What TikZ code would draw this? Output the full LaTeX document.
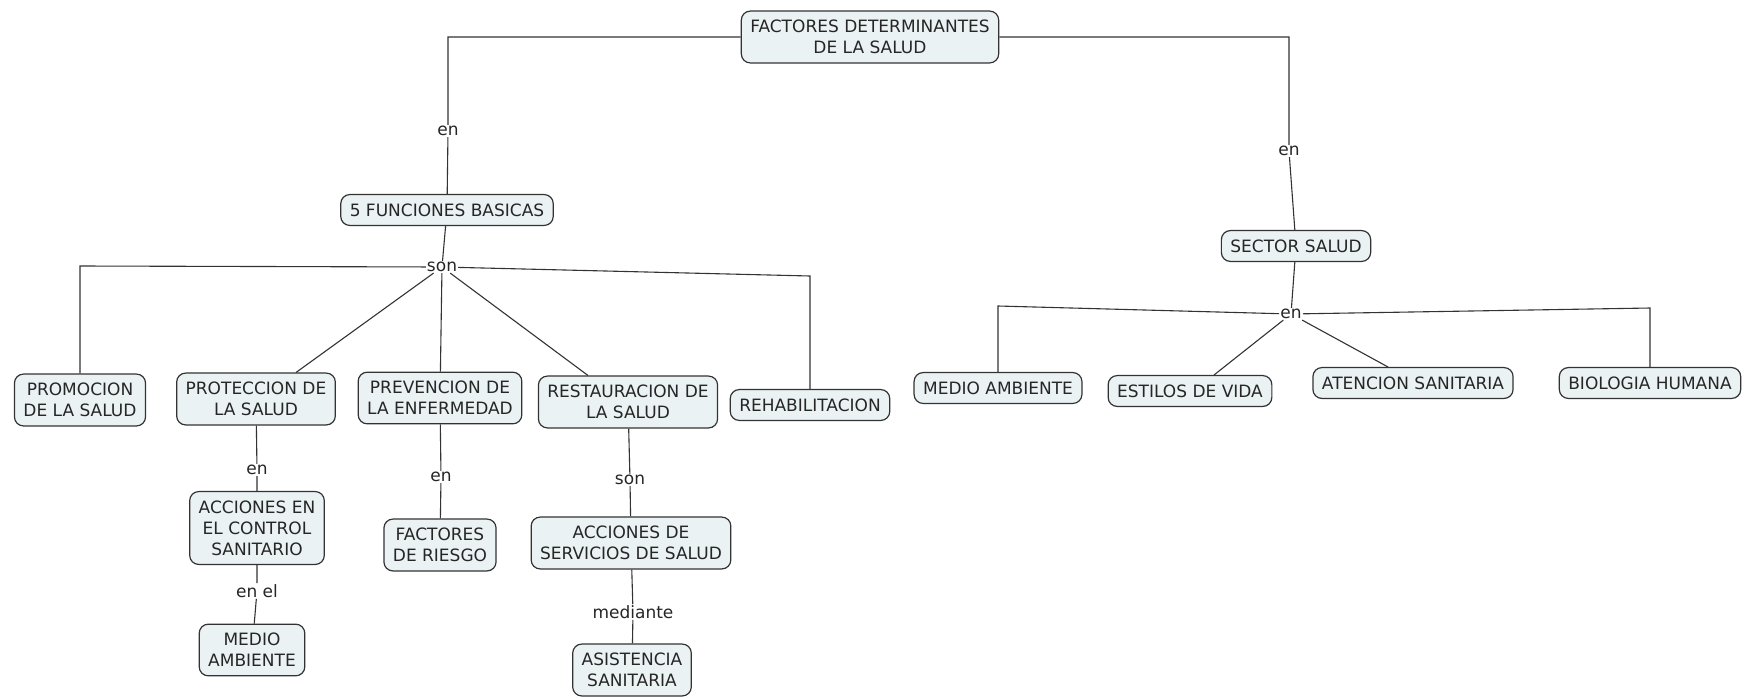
\documentclass[tikz,border=0pt]{standalone}
\usepackage{fontspec}
\setmainfont{DejaVu Sans}
\usepackage{xcolor}
\usetikzlibrary{
    arrows.meta,
    shapes,
    positioning,
    calc
}
\definecolor{boxfill}{HTML}{EBF2F4}
\definecolor{linecol}{HTML}{333333}

\begin{document}
\begin{tikzpicture}[x=1pt, y=-1pt, font=\fontsize{17}{21}\selectfont,
        concept/.style={
            % The shape:
            rectangle, rounded corners=9pt,
            % The border
            draw=linecol, line width=1.2pt,
            % The filling
            fill=boxfill, text=black!85,
            align=center, inner xsep=9pt, inner ysep=9pt},
        link/.style={fill=white, inner sep=1pt, text=black!85},
        conn/.style={draw=linecol, line width=1.1pt}]
        \fill [white] (0,0) rectangle (1750,697);
        \useasboundingbox (0,0) rectangle (1750,697);

        % concepts
        \node [concept] (fact) at (870,37) {FACTORES DETERMINANTES\\DE LA SALUD};
        \node [concept] (func) at (447,210) {5 FUNCIONES BASICAS};
        \node [concept] (sector) at (1296,246) {SECTOR SALUD};
        \node [concept] (promo) at (80,400) {PROMOCION\\DE LA SALUD};
        \node [concept] (prot) at (256,399) {PROTECCION DE\\LA SALUD};
        \node [concept] (prev) at (440,398) {PREVENCION DE\\LA ENFERMEDAD};
        \node [concept] (rest) at (628,402) {RESTAURACION DE\\LA SALUD};
        \node [concept] (rehab) at (810,405) {REHABILITACION};
        \node [concept] (ctrl) at (257,528) {ACCIONES EN\\EL CONTROL\\SANITARIO};
        \node [concept] (medio) at (252,650) {MEDIO\\AMBIENTE};
        \node [concept] (riesgo) at (440,545) {FACTORES\\DE RIESGO};
        \node [concept] (serv) at (631,543) {ACCIONES DE\\SERVICIOS DE SALUD};
        \node [concept] (asist) at (632,670) {ASISTENCIA\\SANITARIA};
        \foreach \x/\y/\n/\t in {998/388/ambiente/MEDIO AMBIENTE, 1190/391/estilos/ESTILOS DE VIDA,
            1413/383/atencion/ATENCION SANITARIA, 1650/383/biologia/BIOLOGIA HUMANA}{
          \node [concept] (\n) at (\x,\y) {\t};
        }

        % linking words
        \node [link] (en1) at (448,131) {en};
        \node [link] (en2) at (1289,151) {en};
        \node [link] (son1) at (442,267) {son};
        \node [link] (en3) at (1291,314) {en};
        \node [link] (en4) at (257,470) {en};
        \node [link] (enel) at (257,591) {en el};
        \node [link] (en5) at (441,477) {en};
        \node [link] (son2) at (630,480) {son};
        \node [link] (med) at (633,612) {mediante};

        % bends
        \coordinate (bpromo) at (80,266);
        \coordinate (brehab) at (810,276);
        \coordinate (bamb) at (998,306);
        \coordinate (bbio) at (1650,308);

        \draw [conn] (fact.west) -| (en1) -- (func);
        \draw [conn] (fact.east) -| (en2) -- (sector);
        \draw [conn] (func) -- (son1);
        \draw [conn] (son1) -- (bpromo) -- (promo);
        \draw [conn] (son1) -- (brehab) -- (rehab);
        \draw [conn] (son1) -- ([xshift=40pt]prot.north);
        \draw [conn] (son1) -- (prev);
        \draw [conn] (son1) -- ([xshift=-40pt]rest.north);
        \draw [conn] (prot) -- (en4) -- (ctrl);
        \draw [conn] (ctrl) -- (enel) -- (medio);
        \draw [conn] (prev) -- (en5) -- (riesgo);
        \draw [conn] (rest) -- (son2) -- (serv);
        \draw [conn] (serv) -- (med) -- (asist);

        \draw [conn] (sector) -- (en3);
        \draw [conn] (en3) -- (bamb) -- (ambiente);
        \draw [conn] (en3) -- (bbio) -- (biologia);
        \draw [conn] (en3) -- ([xshift=24pt]estilos.north);
        \draw [conn] (en3) -- ([xshift=-25pt]atencion.north);
\end{tikzpicture}
\end{document}
